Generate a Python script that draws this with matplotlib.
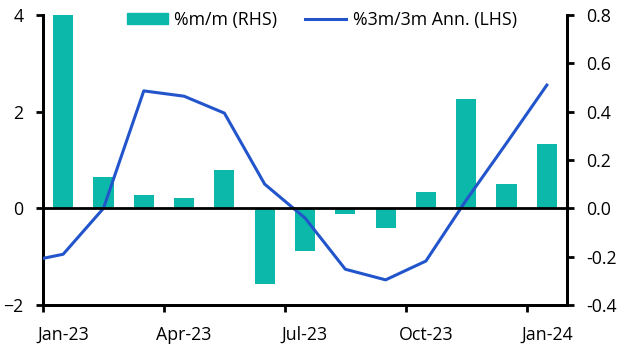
"""Monthly change bars (RHS) with 3m/3m annualised line (LHS)."""

import matplotlib
matplotlib.use('Agg')
import matplotlib.pyplot as plt
import matplotlib.patches as mpatches
from matplotlib.lines import Line2D
from matplotlib import rcParams
import numpy as np

rcParams['font.family'] = ['Open Sans', 'DejaVu Sans']
rcParams['font.size'] = 12.8

BAR_COLOR = '#0cb8a9'
LINE_COLOR = '#2255cc'

# data
months = ['Jan-23', 'Feb-23', 'Mar-23', 'Apr-23', 'May-23', 'Jun-23', 'Jul-23',
          'Aug-23', 'Sep-23', 'Oct-23', 'Nov-23', 'Dec-23', 'Jan-24']
mm_rhs = [0.80, 0.131, 0.055, 0.043, 0.158, -0.312, -0.175,
          -0.022, -0.080, 0.067, 0.452, 0.100, 0.266]
# 3m/3m line starts at Dec-22 (clipped at the left edge)
ann_months = ['Dec-22'] + months
ann_lhs = [-1.12, -0.95, 0.0, 2.43, 2.32, 1.97, 0.50, -0.20,
           -1.26, -1.48, -1.09, 0.17, 1.35, 2.55]
tick_labels = ['Jan-23', 'Apr-23', 'Jul-23', 'Oct-23', 'Jan-24']

fig = plt.figure(figsize=(6.29, 3.54), dpi=100)
ax = fig.add_axes([43 / 629, 49 / 354, 524 / 629, 290 / 354])
ax2 = ax.twinx()

x = np.arange(len(months))
x_line = np.arange(len(ann_months)) - 1

ax2.bar(x, mm_rhs, width=0.5, color=BAR_COLOR, zorder=2)
ax.plot(x_line, ann_lhs, color=LINE_COLOR, linewidth=2.2, zorder=3)
ax.axhline(0, color='black', linewidth=2, zorder=4)

# line axis above bar axis
ax.set_zorder(ax2.get_zorder() + 1)
ax.patch.set_visible(False)

ax.set_xlim(-0.5, 12.5)
ax.set_ylim(-2, 4)
ax2.set_ylim(-0.4, 0.8)
ax.set_yticks([-2, 0, 2, 4])
ax2.set_yticks(np.arange(-0.4, 0.81, 0.2))
ax2.set_yticklabels([f'{v:.1f}' for v in np.arange(-0.4, 0.81, 0.2)])

# ticks at quarter boundaries, labels mid-month
ax.set_xticks([-0.5, 2.5, 5.5, 8.5, 11.5])
ax.set_xticklabels([])
ax.set_xticks([0, 3, 6, 9, 12], minor=True)
ax.set_xticklabels(tick_labels, minor=True)
ax.tick_params(axis='x', which='major', length=5, width=2, direction='out')
ax.tick_params(axis='x', which='minor', length=0, pad=15)
ax.tick_params(axis='y', length=5, width=2, pad=9)
ax2.tick_params(axis='y', length=5, width=2, pad=8.5)

for a in (ax, ax2):
    a.spines['top'].set_visible(False)
    for s in ('left', 'right', 'bottom'):
        a.spines[s].set_linewidth(2)

handles = [mpatches.Patch(color=BAR_COLOR, label='%m/m (RHS)'),
           Line2D([0], [0], color=LINE_COLOR, linewidth=2.2, label='%3m/3m Ann. (LHS)')]
ax.legend(handles=handles, loc='upper center', bbox_to_anchor=(0.532, 1.07), ncol=2,
          frameon=False, handlelength=2.3, handleheight=0.65, handletextpad=0.35,
          columnspacing=1.6)

fig.savefig('out.png', dpi=100, facecolor='white')
